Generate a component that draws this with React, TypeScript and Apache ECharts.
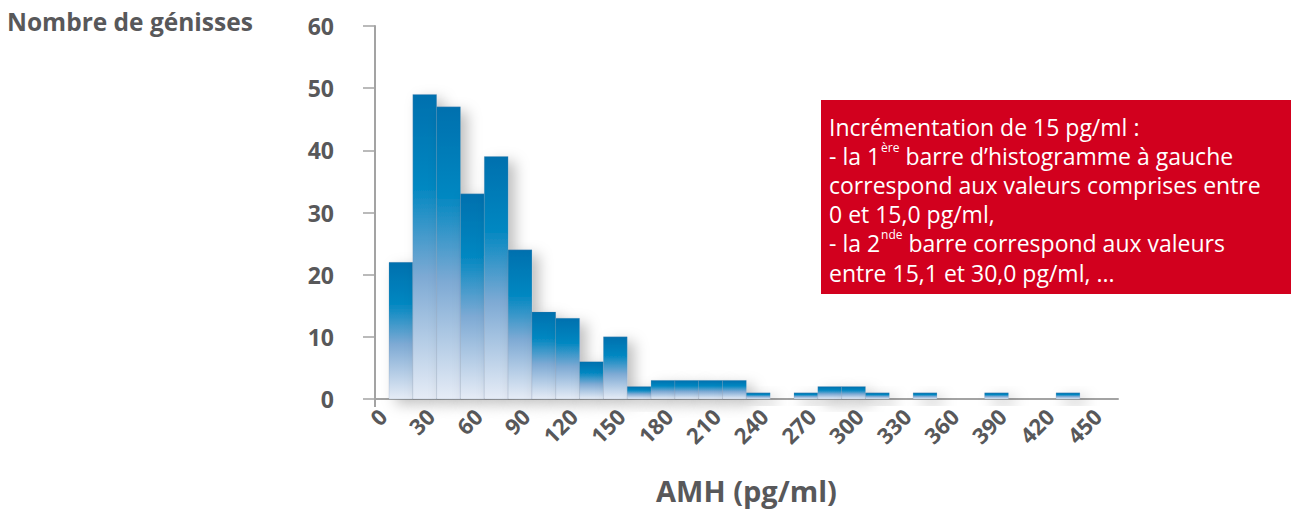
import React, { useEffect, useRef } from "react";
import * as echarts from "echarts";

// Histogram bins (15 pg/ml each), counts of heifers per bin
const BIN_WIDTH = 15;
const counts = [22, 49, 47, 33, 39, 24, 14, 13, 6, 10, 2, 3, 3, 3, 3, 1, 0, 1, 2, 2, 1, 0, 1, 0, 0, 1, 0, 0, 1];
const xTickLabels = [0, 30, 60, 90, 120, 150, 180, 210, 240, 270, 300, 330, 360, 390, 420, 450];
const yTicks = [0, 10, 20, 30, 40, 50, 60];
const yAxisTitle = "Nombre de génisses";
const xAxisTitle = "AMH (pg/ml)";
const noteLines = [
  "Incrémentation de 15 pg/ml :",
  "- la 1{sup|ère} barre d’histogramme à gauche",
  "correspond aux valeurs comprises entre",
  "0 et 15,0 pg/ml,",
  "- la 2{sup|nde} barre correspond aux valeurs",
  "entre 15,1 et 30,0 pg/ml, ...",
];

const X_MIN = -8.8;
const X_MAX = 459;
const GREY = "#58585a";
const AXIS = "#a3a3a3";
const FONT = "'Open Sans', Roboto, sans-serif";

export default function App() {
  const ref = useRef<HTMLDivElement>(null);
  useEffect(() => {
    if (!ref.current) return;
    const chart = echarts.init(ref.current, undefined, { renderer: "svg" });
    const data = counts.map((c, i) => [i * BIN_WIDTH, (i + 1) * BIN_WIDTH, c]);
    chart.setOption({
      animation: false,
      textStyle: { fontFamily: FONT },
      grid: { left: 375, right: 173, top: 26, bottom: 112, containLabel: false, outerBoundsMode: "none" },
      xAxis: {
        type: "value",
        min: X_MIN,
        max: X_MAX,
        name: xAxisTitle,
        nameLocation: "middle",
        nameGap: 77,
        nameMoveOverlap: false,
        nameTextStyle: { fontSize: 29, fontWeight: "bold", color: GREY, fontFamily: FONT },
        axisLine: { show: true, onZero: false, lineStyle: { color: AXIS, width: 2 } },
        axisTick: { show: true, customValues: [X_MIN], length: 8, lineStyle: { color: AXIS, width: 2 } },
        splitLine: { show: false },
        axisLabel: {
          customValues: xTickLabels,
          rotate: 45,
          margin: 7,
          padding: [0, 9, 0, 0],
          fontSize: 22,
          fontWeight: "bold",
          color: GREY,
          fontFamily: FONT,
        },
      },
      yAxis: {
        type: "value",
        min: yTicks[0],
        max: yTicks[yTicks.length - 1],
        interval: 10,
        axisLine: { show: true, onZero: false, lineStyle: { color: AXIS, width: 2 } },
        axisTick: { show: true, length: 12, lineStyle: { color: AXIS, width: 1.5 } },
        splitLine: { show: false },
        axisLabel: {
          margin: 41,
          fontSize: 23,
          fontWeight: "bold",
          color: GREY,
          fontFamily: FONT,
        },
      },
      graphic: [
        {
          type: "text",
          left: 7,
          top: 9,
          style: { text: yAxisTitle, fontSize: 24.5, fontWeight: "bold", fill: GREY, fontFamily: FONT },
        },
        {
          type: "rect",
          shape: { x: 821, y: 100, width: 470, height: 194 },
          style: { fill: "#d2001e" },
        },
        {
          type: "text",
          x: 829,
          y: 112,
          style: {
            text: noteLines.join("\n"),
            fontSize: 23,
            lineHeight: 29.2,
            fill: "#ffffff",
            fontFamily: FONT,
            rich: {
              sup: {
                fontSize: 12,
                lineHeight: 21,
                verticalAlign: "top",
                padding: [0, 0, 0, 1],
                fill: "#ffffff",
                fontFamily: FONT,
              },
            },
          },
        },
      ],
      series: [
        {
          type: "custom",
          data,
          encode: { x: [0, 1], y: 2 },
          renderItem: (params: any, api: any) => {
            const start = api.value(0);
            const end = api.value(1);
            const c = api.value(2);
            if (!c) return null;
            const p0 = api.coord([start, c]);
            const p1 = api.coord([end, 0]);
            return {
              type: "rect",
              shape: { x: p0[0], y: p0[1], width: p1[0] - p0[0], height: p1[1] - p0[1] },
              style: {
                fill: {
                  type: "linear",
                  x: 0,
                  y: 0,
                  x2: 0,
                  y2: 1,
                  colorStops: [
                    { offset: 0, color: "#0070ae" },
                    { offset: 0.3, color: "#0087c1" },
                    { offset: 0.6, color: "#7eaad4" },
                    { offset: 1, color: "#e6ecf6" },
                  ],
                },
                stroke: "rgba(120,140,170,0.35)",
                lineWidth: 0.6,
                shadowBlur: 14,
                shadowColor: "rgba(0,0,0,0.25)",
                shadowOffsetX: 7,
                shadowOffsetY: 5,
              },
            };
          },
        },
      ],
    });
    return () => chart.dispose();
  }, []);
  return (
    <div
      ref={ref}
      style={{ position: "absolute", left: 0, top: 0, width: 1291, height: 511 }}
    />
  );
}
